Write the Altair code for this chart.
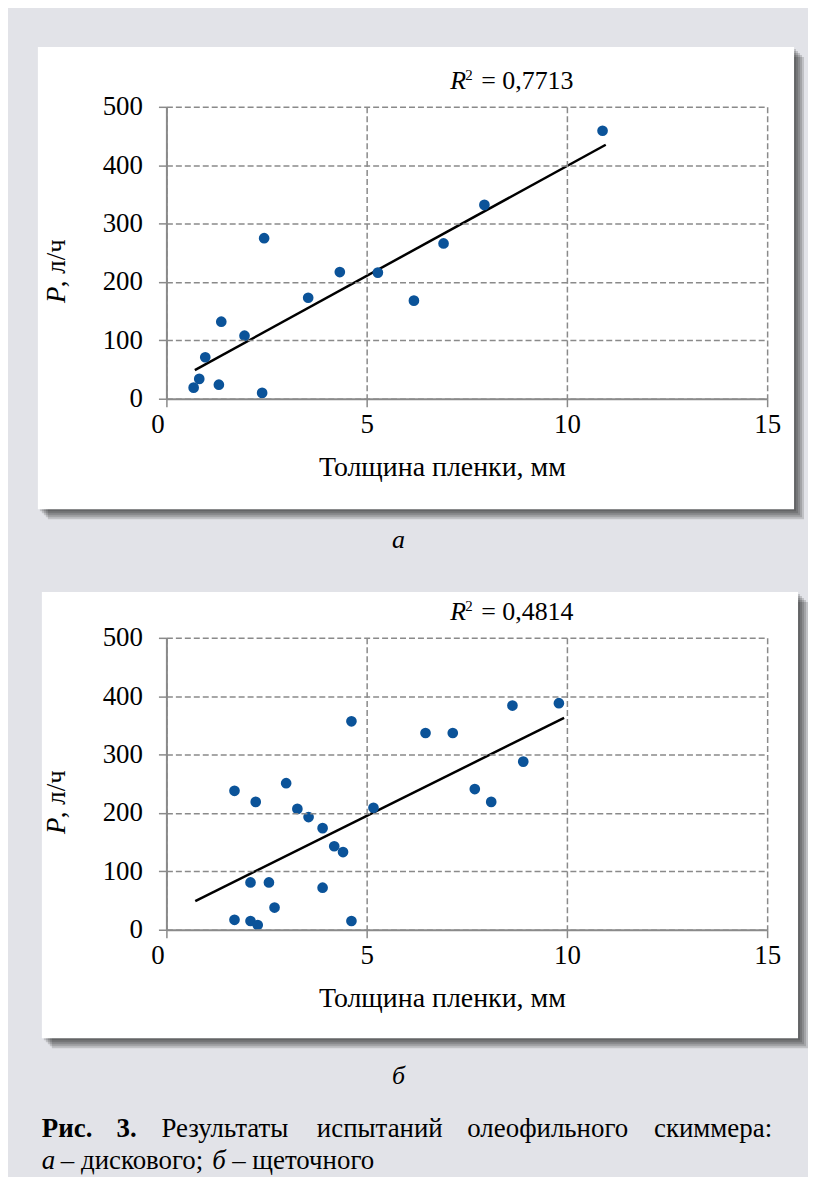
import altair as alt
import pandas as pd

# ---------------- data ----------------
a_thickness = [0.68, 0.82, 0.97, 1.31, 1.37, 1.95, 2.44, 2.39, 3.54, 4.33, 5.28, 6.18, 6.92, 7.94, 10.89]
a_rate = [19, 34, 71, 24, 132, 108, 275, 10, 173, 217, 216, 168, 266, 332, 459]

b_thickness = [1.70, 2.23, 2.99, 3.27, 3.55, 3.90, 4.19, 4.41, 5.17, 4.62, 6.47, 7.15, 7.70,
               2.10, 2.56, 3.90, 2.70, 1.70, 2.10, 2.28, 4.62, 8.11, 8.64, 8.91, 9.80]
b_rate = [238, 219, 251, 207, 193, 174, 143, 133, 209, 357, 337, 337, 241,
          81, 81, 72, 38, 17, 15, 8, 15, 219, 384, 288, 388]

a_trend_x = [0.71, 10.97]
a_trend_y = [49, 435]
b_trend_x = [0.72, 9.93]
b_trend_y = [49, 363]

x_ticks = [0, 5, 10, 15]
y_ticks = [0, 100, 200, 300, 400, 500]

r2_a = "= 0,7713"
r2_b = "= 0,4814"
x_title = "Толщина пленки, мм"
y_title_var = "P"
y_title_rest = ", л/ч"
label_a = "а"
label_b = "б"
caption_bold = ["Рис.", "3."]
caption_words = ["Результаты", "испытаний", "олеофильного", "скиммера:"]
caption_line2 = ["а", "– дискового;", "б", "– щеточного"]

# ---------------- styling ----------------
FONT = "Liberation Serif"
W, H = 603, 293
BLUE = "#0b5399"
GRID = "#8a8a8a"
PAGE = "#e2e3e8"

one = pd.DataFrame({"k": [0]})


def rect(x1, y1, x2, y2, color, opacity=1.0):
    return alt.Chart(one).mark_rect(color=color, opacity=opacity).encode(
        x=alt.value(x1), x2=alt.value(x2), y=alt.value(y1), y2=alt.value(y2))


def text(s, x, y, size=26, style="normal", weight="normal", align="left", angle=0,
         baseline="alphabetic"):
    return alt.Chart(one).mark_text(
        font=FONT, fontSize=size, fontStyle=style, fontWeight=weight, align=align,
        baseline=baseline, angle=angle, color="black").encode(
        x=alt.value(x), y=alt.value(y), text=alt.value(s))


def panel_box(x1, y1, x2, y2):
    layers = []
    for k in range(1, 6):
        d = 2 * k
        layers.append(rect(x1 + d, y1 + d, x2 + d, y2 + d, "black", 0.15))
    layers.append(rect(x1, y1, x2, y2, "white"))
    return layers


def scatter(xs, ys, tx, ty):
    xscale = alt.Scale(domain=[0, 15], nice=False, zero=False)
    yscale = alt.Scale(domain=[0, 500], nice=False, zero=False)
    xaxis = alt.Axis(values=x_ticks, title=None, grid=True, gridDash=[6, 3], gridColor=GRID,
                     gridWidth=1.5, domainColor=GRID, domainWidth=2, tickColor=GRID,
                     tickSize=8, tickWidth=1.5, labelFont=FONT, labelFontSize=27,
                     labelColor="black", labelPadding=5, labelFlush=False,
                     labelOffset={"condition": {"test": "datum.value === 0", "value": -9}, "value": 0},
                     zindex=1)
    yaxis = alt.Axis(values=y_ticks, title=None, grid=True, gridDash=[6, 3], gridColor=GRID,
                     gridWidth=1.5, domainColor=GRID, domainWidth=2, tickColor=GRID,
                     tickSize=8, tickWidth=1.5, labelFont=FONT, labelFontSize=27,
                     labelColor="black", labelPadding=16, labelFlush=False, zindex=1)
    pts = alt.Chart(pd.DataFrame({"x": xs, "y": ys})).mark_circle(
        size=115, color=BLUE, opacity=1).encode(
        x=alt.X("x:Q", scale=xscale, axis=xaxis),
        y=alt.Y("y:Q", scale=yscale, axis=yaxis))
    line = alt.Chart(pd.DataFrame({"x": tx, "y": ty})).mark_line(
        color="black", strokeWidth=2.5).encode(
        x=alt.X("x:Q", scale=xscale), y=alt.Y("y:Q", scale=yscale))
    return [line, pts]


def titles(r2, sub, sub_y):
    return [
        text(x_title, 277, 371, size=28, align="center"),
        text(y_title_var, -110, 197, size=27, style="italic", angle=270, baseline="middle"),
        text(y_title_rest, -110, 181, size=27, angle=270, baseline="middle"),
        text("R", 285, -18, size=26, style="italic"),
        text("2", 300, -27, size=15),
        text(r2, 316, -18, size=26),
        text(sub, 233, sub_y, size=26, style="italic", align="center"),
    ]


# top chart (origin = plot area top-left, page 167,105)
top_layers = [rect(-159, -97, 641, 1072, PAGE)]
top_layers += panel_box(-129, -60, 630, 404)
top_layers += scatter(a_thickness, a_rate, a_trend_x, a_trend_y)
top_layers += titles(r2_a, label_a, 443)
top = alt.layer(*top_layers).properties(width=W, height=H)

# bottom chart (origin page 167,638)
bot_layers = panel_box(-125, -46, 634, 402)
bot_layers += scatter(b_thickness, b_rate, b_trend_x, b_trend_y)
bot_layers += titles(r2_b, label_b, 448)
# caption (page x minus plot left)
cx = -167
CS = 27
bot_layers += [
    text(caption_bold[0], 42 + cx, 501, size=CS, weight="bold"),
    text(caption_bold[1], 117 + cx, 501, size=CS, weight="bold"),
    text(caption_words[0], 162 + cx, 501, size=CS),
    text(caption_words[1], 318 + cx, 501, size=CS),
    text(caption_words[2], 469 + cx, 501, size=CS),
    text(caption_words[3], 775 + cx, 501, size=CS, align="right"),
    text(caption_line2[0], 42 + cx, 533, size=CS, style="italic"),
    text(caption_line2[1], 61 + cx, 533, size=CS),
    text(caption_line2[2], 213 + cx, 533, size=CS, style="italic"),
    text(caption_line2[3], 233 + cx, 533, size=CS),
]
bottom = alt.layer(*bot_layers).properties(width=W, height=H)

chart = alt.vconcat(top, bottom, spacing=240, bounds="flush").properties(
    padding=0, background=PAGE
).configure_view(strokeWidth=0)

chart.save("out.html", embed_options={"renderer": "svg", "actions": False})
